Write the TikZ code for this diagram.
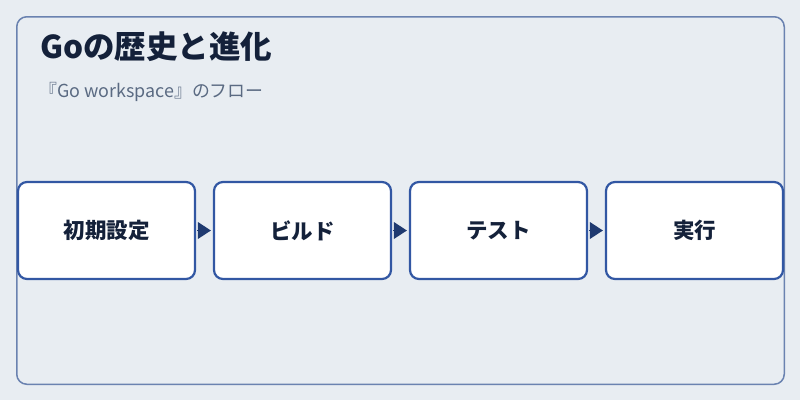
\documentclass[tikz,border=0pt]{standalone}
\usepackage{fontspec}
\setmainfont{Noto Sans CJK JP}
\usetikzlibrary{arrows.meta}
\definecolor{bgcol}{HTML}{E8EDF2}
\definecolor{framecol}{HTML}{6A82B0}
\definecolor{boxcol}{HTML}{3257A3}
\definecolor{arrowcol}{HTML}{1F3A70}
\definecolor{titlecol}{HTML}{14213A}
\definecolor{subcol}{HTML}{5A6A82}
\begin{document}
\begin{tikzpicture}[x=1pt,y=-1pt,
  stepbox/.style={draw=boxcol,fill=white,line width=2.2pt,rounded corners=9pt,
    minimum width=177pt,minimum height=97pt,inner sep=0pt,
    font=\fontsize{21.5}{26}\selectfont\bfseries,text=titlecol},
  flow/.style={draw=arrowcol,line width=0pt,
    -{Triangle[length=13pt,width=17pt]},shorten <=2pt,shorten >=2pt}]
  \fill[bgcol] (0,0) rectangle (800,400);
  \useasboundingbox (0,0) rectangle (800,400);
  \draw[framecol,line width=1.5pt,rounded corners=10pt]
    (16.75,16.75) rectangle (784.25,384.25);
  \node[anchor=base west,inner sep=0pt,text=titlecol,
    font=\fontsize{31.5}{38}\selectfont\bfseries] (title)
    at (40,58) {Goの歴史と進化};
  \node[anchor=base west,inner sep=0pt,text=subcol,
    font=\fontsize{17.9}{21}\selectfont] (subtitle)
    at (39,97) {『Go workspace』のフロー};
  \node[stepbox] (init) at (106.5,230.5) {初期設定};
  \node[stepbox] (build) at (302.5,230.5) {ビルド};
  \node[stepbox] (test) at (498.5,230.5) {テスト};
  \node[stepbox] (run) at (694.5,230.5) {実行};
  \draw[flow] (init) -- (build);
  \draw[flow] (build) -- (test);
  \draw[flow] (test) -- (run);
\end{tikzpicture}
\end{document}
